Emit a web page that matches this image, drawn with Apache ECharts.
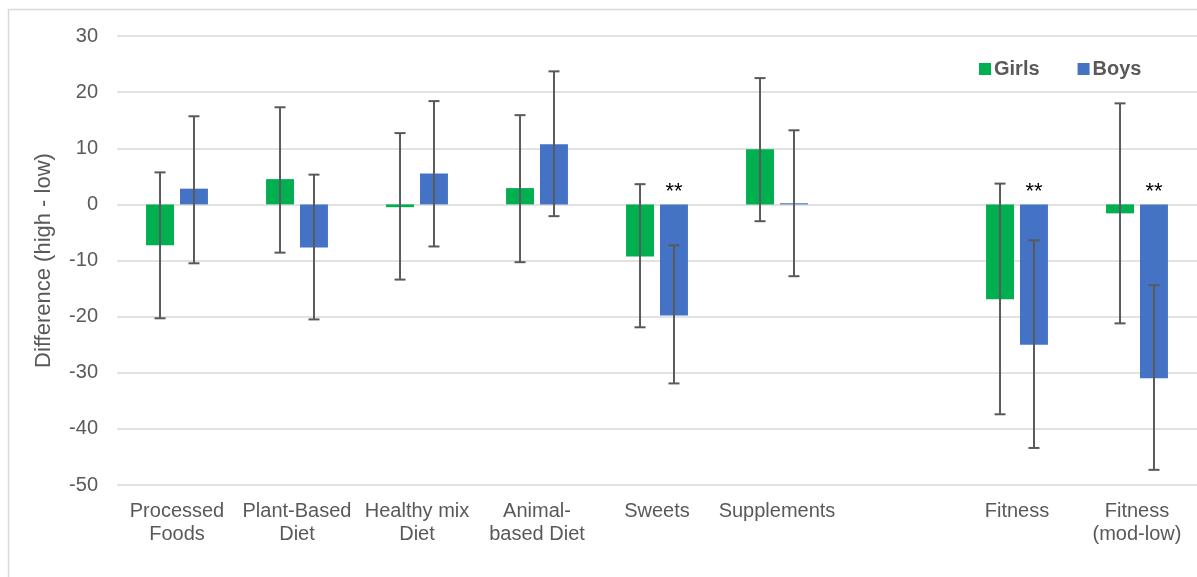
<!DOCTYPE html>
<html>
<head>
<meta charset="utf-8">
<script src="https://cdn.jsdelivr.net/npm/echarts@6/dist/echarts.min.js"></script>
<style>
html,body{margin:0;padding:0;background:#fff;}
#chart{width:1197px;height:577px;}
</style>
</head>
<body>
<div id="chart"></div>
<script>
// ---- data ----
const categories = ['Processed\nFoods', 'Plant-Based\nDiet', 'Healthy mix\nDiet', 'Animal-\nbased Diet', 'Sweets', 'Supplements', '', 'Fitness', 'Fitness\n(mod-low)'];
const girls     = [-7.3,  4.5, -0.5,  2.9,  -9.3,  9.8, null, -16.9,  -1.6];
const girlsLow  = [-20.3, -8.6, -13.4, -10.3, -21.9, -3.0, null, -37.4, -21.2];
const girlsHigh = [5.7,  17.3, 12.7, 15.9,   3.6, 22.5, null,   3.7,  18.0];
const boys      = [2.8,  -7.7,  5.5, 10.7, -19.8,  0.2, null, -25.0, -31.0];
const boysLow   = [-10.5, -20.5, -7.5, -2.1, -31.9, -12.8, null, -43.4, -47.3];
const boysHigh  = [15.7,  5.3, 18.4, 23.7,  -7.3, 13.2, null,  -6.4, -14.4];
const boysSig   = ['', '', '', '', '**', '', '', '**', '**'];
const yTicks = { min: -50, max: 30, interval: 10 };

// ---- styles ----
const GREEN = '#00b050', BLUE = '#4472c4', TEXT = '#595959', GRID = '#d9d9d9';
const BAR_W = 0.233, BAR_GAP = 0.214;
const OFFSET = BAR_W * (1 + BAR_GAP) / 2;
const FONT = 'Liberation Sans, Arial, sans-serif';

function errData(low, high) {
  return low.map((l, i) => (l === null ? null : [i, l, high[i]])).filter(d => d);
}
function errRender(sign) {
  return function (params, api) {
    const i = api.value(0);
    const band = api.size([1, 0])[0];
    const x = api.coord([i, 0])[0] + sign * OFFSET * band;
    const yl = api.coord([i, api.value(1)])[1];
    const yh = api.coord([i, api.value(2)])[1];
    const cap = 5.5;
    const st = { stroke: '#595959', lineWidth: 2 };
    return {
      type: 'group',
      children: [
        { type: 'line', shape: { x1: x, y1: yl, x2: x, y2: yh }, style: st },
        { type: 'line', shape: { x1: x - cap, y1: yl, x2: x + cap, y2: yl }, style: st },
        { type: 'line', shape: { x1: x - cap, y1: yh, x2: x + cap, y2: yh }, style: st }
      ]
    };
  };
}

const chart = echarts.init(document.getElementById('chart'), null, { renderer: 'canvas' });
chart.setOption({
  animation: false,
  backgroundColor: '#fff',
  graphic: [{
    type: 'rect', silent: true, z: -10,
    shape: { x: 8.5, y: 9.5, width: 1220, height: 600 },
    style: { fill: 'none', stroke: GRID, lineWidth: 1.5 }
  }],
  grid: { left: 117, right: 0, top: 36, bottom: 92 },
  legend: {
    left: 974, top: 54,
    itemWidth: 12, itemHeight: 12, itemGap: 38,
    icon: 'rect',
    textStyle: { color: TEXT, fontSize: 20, fontWeight: 'bold', fontFamily: FONT, padding: [0, 0, 0, -2] },
    data: ['Girls', 'Boys']
  },
  xAxis: {
    type: 'category',
    data: categories,
    axisLine: { show: false },
    axisTick: { show: false },
    axisLabel: { interval: 0, color: TEXT, fontSize: 20, lineHeight: 23, margin: 15, fontFamily: FONT }
  },
  yAxis: {
    type: 'value',
    min: yTicks.min, max: yTicks.max, interval: yTicks.interval,
    name: 'Difference (high - low)',
    nameLocation: 'middle',
    nameGap: 62,
    nameTextStyle: { color: TEXT, fontSize: 22, fontFamily: FONT },
    axisLine: { show: false },
    axisTick: { show: false },
    axisLabel: { color: TEXT, fontSize: 20, margin: 19, fontFamily: FONT },
    splitLine: { lineStyle: { color: GRID, width: 1.5 } }
  },
  series: [
    { name: 'Girls', type: 'bar', data: girls, barWidth: (BAR_W * 100) + '%', barGap: (BAR_GAP * 100) + '%',
      itemStyle: { color: GREEN } },
    { name: 'Boys', type: 'bar', data: boys, barWidth: (BAR_W * 100) + '%', barGap: (BAR_GAP * 100) + '%',
      itemStyle: { color: BLUE } },
    { name: 'GirlsErr', type: 'custom', renderItem: errRender(-1), data: errData(girlsLow, girlsHigh), z: 10, silent: true },
    { name: 'BoysErr', type: 'custom', renderItem: errRender(1), data: errData(boysLow, boysHigh), z: 10, silent: true },
    { name: 'Sig', type: 'custom', z: 11, silent: true,
      data: boysSig.map((s, i) => [i, s]).filter(d => d[1]),
      renderItem: function (params, api) {
        const i = api.value(0);
        const band = api.size([1, 0])[0];
        const p = api.coord([i, 0]);
        return {
          type: 'text',
          style: {
            x: p[0] + OFFSET * band, y: p[1] - 1,
            text: boysSig[i], fill: '#000', font: '22px ' + FONT,
            textAlign: 'center', textVerticalAlign: 'bottom'
          }
        };
      }
    }
  ]
});
</script>
</body>
</html>
